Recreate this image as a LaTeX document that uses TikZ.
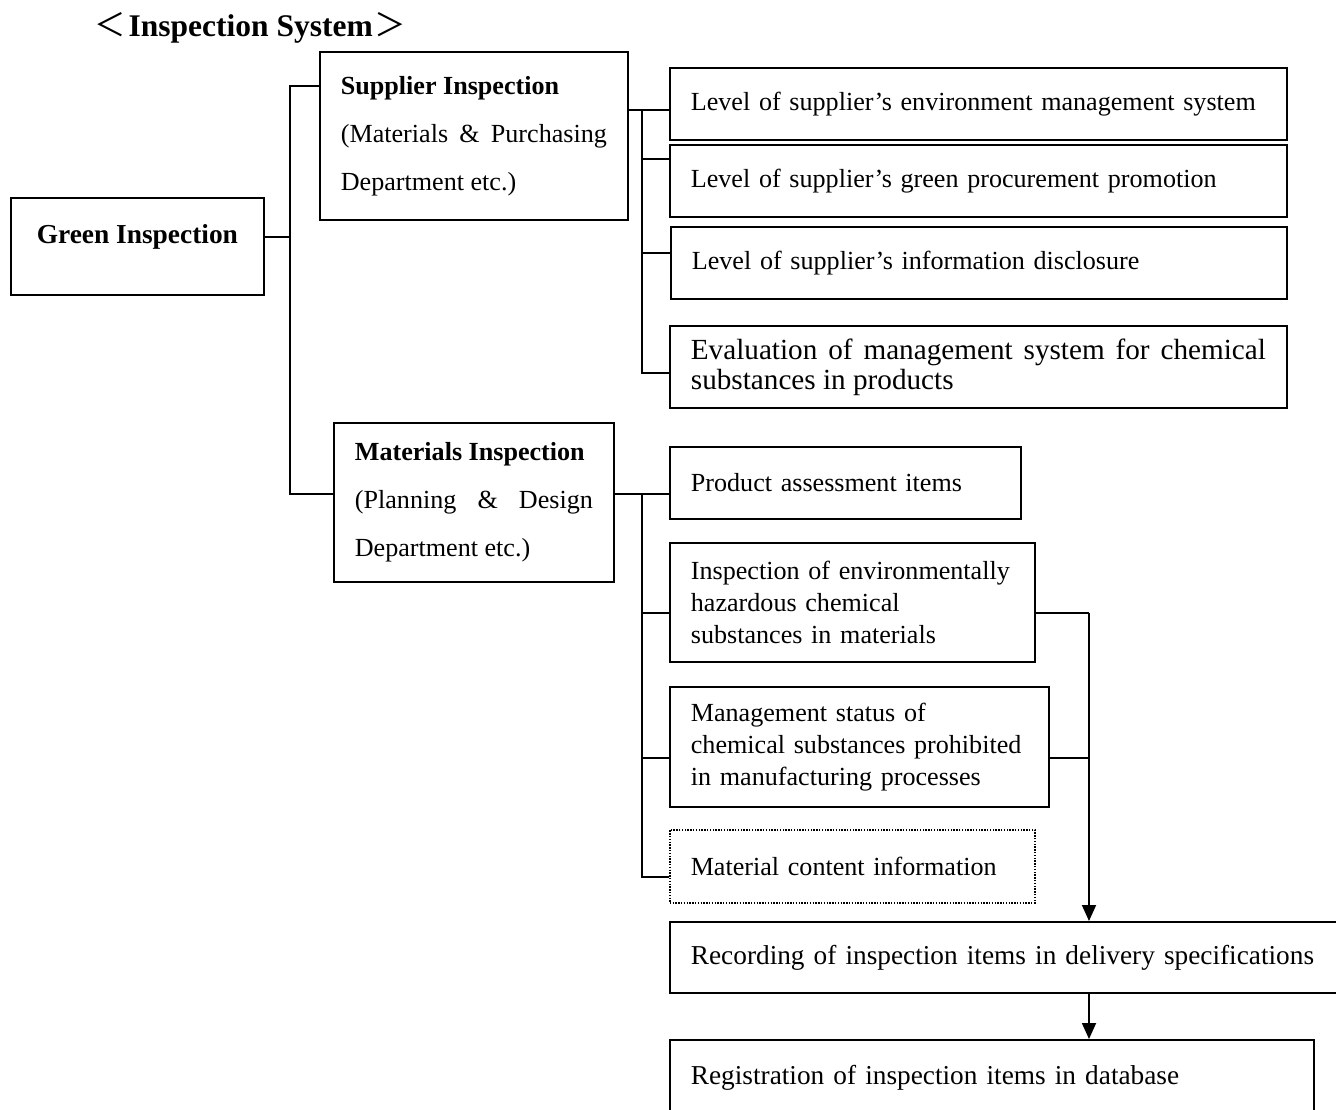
\documentclass[tikz,border=0pt]{standalone}
\usepackage{fontspec}
\setmainfont{Liberation Serif}
\newfontfamily\cjkfont{Noto Sans CJK JP}
\usetikzlibrary{arrows.meta}

\tikzset{
  box/.style={draw, line width=1.8pt, anchor=north west, inner xsep=21pt, inner ysep=0pt,
    align=left, font=\fontsize{26.1}{32}\selectfont},
  dotbox/.style={box, line width=1.5pt, dash pattern=on 1.4pt off 1.4pt},
  head/.style={box, align=justify, font=\fontsize{26.1}{48}\selectfont},
  link/.style={line width=1.8pt},
  feed/.style={link, -{Triangle[length=16pt,width=14pt]}},
}

\begin{document}
\begin{tikzpicture}[x=1pt, y=-1pt]
\useasboundingbox (0,0) rectangle (1336,1110);

\node[anchor=base west, inner sep=0pt, font=\fontsize{31.5}{36}\selectfont\bfseries] (title) at (94,37)
  {{\cjkfont\mdseries ＜}\hspace{3pt}Inspection System\hspace{2pt}{\cjkfont\mdseries ＞}};

\node[box, align=center, minimum width=253pt, minimum height=97pt, text height=19pt, text depth=24pt,
  font=\fontsize{27.4}{32}\selectfont\bfseries] (green) at (10,197) {Green Inspection};

\node[head, text width=266pt, minimum height=168pt] (sup) at (319,51)
  {\textbf{Supplier Inspection}\\(Materials \& Purchasing\linebreak Department etc.)};
\node[head, text width=238pt, minimum height=159pt] (mat) at (333,422)
  {\textbf{Materials Inspection}\\(Planning \& Design\linebreak Department etc.)};

% supplier side
\node[box, text width=575pt, minimum height=72pt] (s1) at (669,67) {Level of supplier’s environment management system};
\node[box, text width=575pt, minimum height=72pt] (s2) at (669,144) {Level of supplier’s green procurement promotion};
\node[box, text width=574pt, minimum height=72pt] (s3) at (670,226) {Level of supplier’s information disclosure};
\node[box, align=justify, text width=575pt, minimum height=82pt, font=\fontsize{29.2}{30}\selectfont] (s4) at (669,325)
  {Evaluation of management system for chemical\linebreak substances in products};

% materials side
\node[box, text width=309pt, minimum height=72pt] (m1) at (669,446) {Product assessment items};
\node[box, text width=323pt, minimum height=119pt] (m2) at (669,542)
  {\mbox{Inspection of environmentally}\\hazardous chemical\\substances in materials};
\node[box, text width=337pt, minimum height=120pt] (m3) at (669,686)
  {Management status of\\\mbox{chemical substances prohibited}\\in manufacturing processes};
\node[dotbox, text width=323pt, minimum height=73pt] (m4) at (669,829) {Material content information};

\node[box, text width=640pt, minimum height=71pt, font=\fontsize{27.3}{32}\selectfont] (rec) at (669,921)
  {Recording of inspection items in delivery specifications};
\node[box, text width=602pt, minimum height=76pt, font=\fontsize{27.3}{32}\selectfont] (reg) at (669,1039)
  {Registration of inspection items in database};

% tree lines
\coordinate (gc) at (290,237);
\coordinate (ga) at (290,86);
\coordinate (gb) at (290,494);
\draw[link] (gc -| green.east) -- (gc);
\draw[link] (ga -| sup.west) -- (ga) -- (gb) -- (gb -| mat.west);

\coordinate (sa) at (642,110);
\coordinate (sb) at (642,373);
\draw[link] (sa -| sup.east) -- (sa -| s1.west);
\draw[link] (sa) -- (sb) -- (sb -| s4.west);
\foreach \n/\y in {s2/159, s3/253}
  \draw[link] (642,\y) -- (\n.west |- 0,\y);

\coordinate (ma) at (642,494);
\coordinate (mb) at (642,877);
\draw[link] (ma -| mat.east) -- (ma -| m1.west);
\draw[link] (ma) -- (mb) -- (mb -| m4.west);
\foreach \n/\y in {m2/613, m3/758}
  \draw[link] (642,\y) -- (\n.west |- 0,\y);

% into the delivery specifications
\coordinate (fa) at (1089,613);
\coordinate (fb) at (1089,758);
\draw[link] (fa -| m2.east) -- (fa);
\draw[link] (fb -| m3.east) -- (fb);
\draw[feed] (fa) -- (fa |- rec.north);
\draw[feed] (fa |- rec.south) -- (fa |- reg.north);

\end{tikzpicture}
\end{document}
